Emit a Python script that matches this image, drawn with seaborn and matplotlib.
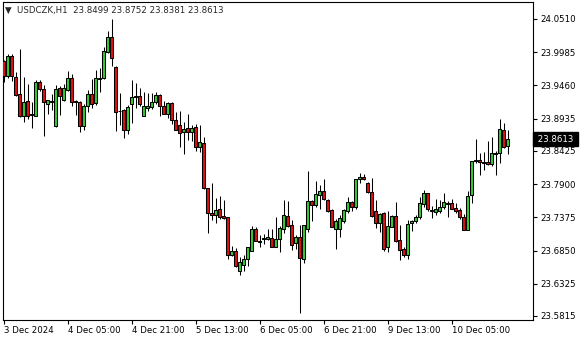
import matplotlib
matplotlib.use("Agg")
import matplotlib.pyplot as plt
import matplotlib.transforms as mtransforms
import seaborn as sns
import pandas as pd
import numpy as np

# ---------------- data ----------------
symbol = "USDCZK,H1"

open_ = [23.9846, 23.9614, 23.9920, 23.9593, 23.9319, 23.8981, 23.9213, 23.9008, 23.8981, 23.9508,
         23.9403, 23.9161, 23.9192, 23.8813, 23.9414, 23.9235, 23.9382, 23.9572, 23.9208, 23.9203,
         23.8813, 23.9129, 23.9319, 23.9176, 23.9577, 23.9572, 23.9993, 24.0225, 23.9751, 23.9061,
         23.9066, 23.8760, 23.9161, 23.9277, 23.9287, 23.8981, 23.9097, 23.9118, 23.9203, 23.9308,
         23.9140, 23.9013, 23.9182, 23.8908, 23.8834, 23.8718, 23.8781, 23.8728, 23.8802, 23.8486,
         23.8544, 23.7838, 23.7437, 23.7416, 23.7511, 23.7395, 23.7374, 23.6773, 23.6837, 23.6520,
         23.6615, 23.6710, 23.6847, 23.7195, 23.7000, 23.7026, 23.7037, 23.7047, 23.6910, 23.7026,
         23.7195, 23.7395, 23.7258, 23.6963, 23.7058, 23.6721, 23.7185, 23.7627, 23.7564, 23.7733,
         23.7786, 23.7648, 23.7490, 23.7195, 23.7195, 23.7311, 23.7480, 23.7617, 23.7543, 23.7975,
         23.8007, 23.7923, 23.7775, 23.7469, 23.7280, 23.7438, 23.6900, 23.7227, 23.7396, 23.7016,
         23.6880, 23.6774, 23.7280, 23.7312, 23.7375, 23.7586, 23.7754, 23.7491, 23.7459, 23.7470,
         23.7533, 23.7602, 23.7596, 23.7523, 23.7491, 23.7375, 23.7175, 23.7733, 23.8281, 23.8281,
         23.8239, 23.8250, 23.8218, 23.8392, 23.8387, 23.8756, 23.8499]
high = [23.9867, 23.9951, 23.9951, 23.9667, 24.0035, 23.9593, 23.9477, 23.9192, 23.9540, 23.9540,
        23.9466, 23.9235, 23.9329, 23.9466, 23.9445, 23.9477, 23.9688, 23.9635, 23.9235, 23.9213,
        23.9161, 23.9382, 23.9561, 23.9698, 23.9730, 24.0067, 24.0320, 24.0510, 23.9760, 23.9340,
        23.9087, 23.9150, 23.9540, 23.9498, 23.9424, 23.9361, 23.9340, 23.9340, 23.9350, 23.9329,
        23.9213, 23.9192, 23.9192, 23.9034, 23.9055, 23.8876, 23.9003, 23.8834, 23.8855, 23.8834,
        23.8639, 23.7845, 23.7922, 23.7680, 23.7711, 23.7648, 23.7385, 23.6921, 23.6889, 23.6752,
        23.6773, 23.6910, 23.7237, 23.7216, 23.7090, 23.7111, 23.7195, 23.7195, 23.7374, 23.7237,
        23.7648, 23.7638, 23.7332, 23.7090, 23.7258, 23.7255, 23.8112, 23.7650, 23.7944, 23.7880,
        23.7986, 23.7670, 23.7501, 23.7353, 23.7406, 23.7511, 23.7701, 23.7627, 23.7986, 23.8081,
        23.8060, 23.7930, 23.7996, 23.7649, 23.7440, 23.7459, 23.7480, 23.7417, 23.7617, 23.7248,
        23.6901, 23.7333, 23.7333, 23.7417, 23.7702, 23.7807, 23.7765, 23.7554, 23.7670, 23.7649,
        23.7754, 23.7638, 23.7670, 23.7607, 23.7523, 23.7428, 23.7797, 23.8265, 23.8608, 23.8397,
        23.8408, 23.8577, 23.8640, 23.8419, 23.8924, 23.8861, 23.8752]
low = [23.9519, 23.9572, 23.9530, 23.9287, 23.8966, 23.8876, 23.8929, 23.8792, 23.8971, 23.9371,
       23.8665, 23.9013, 23.9076, 23.8802, 23.8992, 23.9213, 23.9371, 23.9140, 23.8992, 23.8718,
       23.8750, 23.9045, 23.9108, 23.9150, 23.9361, 23.9561, 23.9972, 23.9772, 23.8739, 23.8834,
       23.8634, 23.8686, 23.8866, 23.9108, 23.9129, 23.8975, 23.9055, 23.9087, 23.9161, 23.8981,
       23.9003, 23.8939, 23.8855, 23.8750, 23.8486, 23.8370, 23.8591, 23.8581, 23.8423, 23.8412,
       23.7817, 23.7121, 23.7332, 23.7290, 23.7353, 23.7353, 23.6710, 23.6763, 23.6584, 23.6457,
       23.6520, 23.6605, 23.6840, 23.6995, 23.6910, 23.6953, 23.7016, 23.6905, 23.6905, 23.6826,
       23.7132, 23.7227, 23.6858, 23.6879, 23.5856, 23.6647, 23.7143, 23.7311, 23.7543, 23.7511,
       23.7649, 23.7459, 23.7216, 23.6869, 23.7069, 23.7290, 23.7438, 23.7480, 23.7511, 23.7923,
       23.7965, 23.7754, 23.7385, 23.7206, 23.7143, 23.6837, 23.6826, 23.7216, 23.6985, 23.6700,
       23.6753, 23.6722, 23.7164, 23.7280, 23.7354, 23.7544, 23.7481, 23.7365, 23.7407, 23.7449,
       23.7512, 23.7386, 23.7502, 23.7449, 23.7354, 23.7170, 23.7170, 23.7607, 23.8229, 23.8039,
       23.8123, 23.8197, 23.8187, 23.8050, 23.8239, 23.8471, 23.8381]
close = [23.9614, 23.9920, 23.9603, 23.9308, 23.8981, 23.9192, 23.8981, 23.8997, 23.9508, 23.9403,
         23.9192, 23.9224, 23.9213, 23.9403, 23.9287, 23.9414, 23.9572, 23.9203, 23.9197, 23.8813,
         23.9140, 23.9319, 23.9161, 23.9572, 23.9567, 24.0004, 24.0225, 23.9888, 23.9045, 23.9050,
         23.8760, 23.9118, 23.9277, 23.9298, 23.9171, 23.9140, 23.9140, 23.9192, 23.9308, 23.9129,
         23.9013, 23.9182, 23.8918, 23.8760, 23.8707, 23.8771, 23.8728, 23.8792, 23.8486, 23.8570,
         23.7838, 23.7437, 23.7416, 23.7490, 23.7385, 23.7364, 23.6773, 23.6837, 23.6605, 23.6668,
         23.6721, 23.6900, 23.7195, 23.7005, 23.6990, 23.7047, 23.7068, 23.6910, 23.7037, 23.7206,
         23.7406, 23.7237, 23.6942, 23.7068, 23.6731, 23.7248, 23.7627, 23.7575, 23.7743, 23.7786,
         23.7670, 23.7480, 23.7227, 23.7322, 23.7364, 23.7490, 23.7617, 23.7543, 23.7975, 23.8007,
         23.7975, 23.7775, 23.7396, 23.7280, 23.7427, 23.6879, 23.7237, 23.7396, 23.7006, 23.6858,
         23.6774, 23.7270, 23.7312, 23.7375, 23.7596, 23.7754, 23.7512, 23.7481, 23.7512, 23.7533,
         23.7617, 23.7591, 23.7512, 23.7470, 23.7375, 23.7175, 23.7712, 23.8260, 23.8260, 23.8250,
         23.8250, 23.8218, 23.8387, 23.8382, 23.8766, 23.8492, 23.8613]

session_starts = ["2024-12-03 13:00", "2024-12-09 00:00"]
session_ends = ["2024-12-06 23:00", "2024-12-10 19:00"]

price_ticks = [24.0510, 23.9985, 23.9460, 23.8935, 23.8425, 23.7900,
               23.7375, 23.6850, 23.6325, 23.5815]
time_tick_times = ["2024-12-03 13:00", "2024-12-04 05:00", "2024-12-04 21:00",
                   "2024-12-05 13:00", "2024-12-06 05:00", "2024-12-06 21:00",
                   "2024-12-09 13:00", "2024-12-10 05:00"]
time_tick_labels = ["3 Dec 2024", "4 Dec 05:00", "4 Dec 21:00", "5 Dec 13:00",
                    "6 Dec 05:00", "6 Dec 21:00", "9 Dec 13:00", "10 Dec 05:00"]

# ---------------- build table ----------------
times = pd.DatetimeIndex(np.concatenate([
    pd.date_range(s, e, freq="h").values for s, e in zip(session_starts, session_ends)]))
df = pd.DataFrame({"time": times, "open": open_, "high": high, "low": low, "close": close})
df["bar"] = np.arange(len(df))
df["bull"] = df["close"] >= df["open"]
df["body_lo"] = df[["open", "close"]].min(axis=1)
df["body_h"] = (df["open"] - df["close"]).abs()

# ---------------- style ----------------
sns.set_style("white")
plt.rcParams["font.family"] = ["DejaVu Sans"]
fs = 6.2
bull_col = "#32CD32"
bear_col = "#E01010"

W, H = 580, 340
fig = plt.figure(figsize=(W / 100, H / 100), dpi=100)
fig.patch.set_facecolor("white")
left, right, top, bottom = 2.5, 533, 2, 320
ax = fig.add_axes([left / W, (H - bottom) / H, (right - left) / W, (bottom - top) / H])
ax.set_facecolor("white")

# wicks
ax.vlines(df["bar"], df["low"], df["high"], color="black", linewidth=0.75, zorder=2)
# bodies
colors = np.where(df["bull"], bull_col, bear_col)
ax.bar(df["bar"], df["body_h"], bottom=df["body_lo"], width=0.55,
       color=colors, edgecolor="black", linewidth=0.75, zorder=3)

# limits: 4 px per bar
px_per_bar = 4.0
ax.set_xlim(-0.25, -0.25 + (right - left) / px_per_bar)
ppx = (price_ticks[0] - price_ticks[-1]) / (316 - 19)
ax.set_ylim(price_ticks[-1] - (bottom - 316) * ppx, price_ticks[0] + (19 - top) * ppx)

# y axis on the right
ax.yaxis.tick_right()
ax.set_yticks(price_ticks)
ax.set_yticklabels([f"{v:.4f}" for v in price_ticks])
ax.tick_params(axis="y", which="both", direction="out", length=3, width=0.8,
               pad=2, labelsize=fs, colors="black", right=True, left=False)

# x axis
tick_pos = [int(np.where(times == pd.Timestamp(t))[0][0]) for t in time_tick_times]
ax.set_xticks(tick_pos)
ax.set_xticklabels(time_tick_labels, ha="left")
ax.tick_params(axis="x", which="both", direction="out", length=3, width=0.8,
               pad=1, labelsize=fs, colors="black", bottom=True)
for lab in ax.get_xticklabels():
    lab.set_horizontalalignment("left")

for sp in ax.spines.values():
    sp.set_visible(True)
    sp.set_color("black")
    sp.set_linewidth(0.8)
ax.grid(False)

# current price box
last = df["close"].iloc[-1]
trans = mtransforms.blended_transform_factory(ax.transAxes, ax.transData)
ax.text(1.004, last, f" {last:.4f} ", transform=trans, ha="left", va="center",
        fontsize=fs, color="white", clip_on=False, zorder=10,
        bbox=dict(boxstyle="square,pad=0.25", facecolor="black", edgecolor="black"))

# title
o, h_, l_, c_ = df[["open", "high", "low", "close"]].iloc[-1]
fig.text(5 / W, 1 - 10 / H, "▼", fontsize=fs, va="center", ha="left")
fig.text(17 / W, 1 - 10 / H, f"{symbol}  {o:.4f} {h_:.4f} {l_:.4f} {c_:.4f}",
         fontsize=fs, va="center", ha="left")

fig.savefig("out.png", dpi=100, facecolor="white")
